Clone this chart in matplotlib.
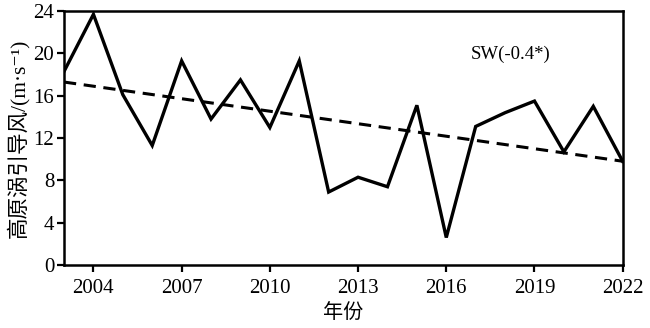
import numpy as np
import matplotlib
matplotlib.use("Agg")
import matplotlib.pyplot as plt

plt.rcParams['font.family'] = ['Liberation Serif', 'Noto Sans CJK SC', 'DejaVu Sans']

years = np.arange(2003, 2023)
wind = [18.3, 23.7, 16.1, 11.3, 19.3, 13.8, 17.5, 13.0, 19.3, 6.9,
        8.3, 7.4, 15.1, 2.6, 13.1, 14.4, 15.5, 10.7, 15.0, 9.8]
xticks = [2004, 2007, 2010, 2013, 2016, 2019, 2022]
yticks = [0, 4, 8, 12, 16, 20, 24]
label = "SW(-0.4*)"

fig = plt.figure(figsize=(6.5, 3.28), dpi=100)
ax = fig.add_axes([0.0985, 0.192, 0.8595, 0.774])

ax.plot(years, wind, color='black', lw=2.4, solid_joinstyle='miter')

# linear trend
k, b = np.polyfit(years, wind, 1)
ax.plot(years, k * years + b, color='black', lw=2.2, ls=(0, (4, 2.5)))

ax.set_xlim(2003, 2022)
ax.set_ylim(0, 24)
ax.set_xticks(xticks)
ax.set_yticks(yticks)
ax.tick_params(labelsize=15, width=1.6, length=5, direction='out')
ax.tick_params(axis='x', pad=5)
ax.tick_params(axis='y', pad=2)
for s in ax.spines.values():
    s.set_linewidth(1.8)

ax.text(0.80, 0.83, label, transform=ax.transAxes, fontsize=13.5, ha='center', va='center')
ax.set_xlabel("年份", fontsize=14.5, family=['Noto Sans CJK SC'], labelpad=3)
ax.set_ylabel("高原涡引导风/(m·s⁻¹)", fontsize=15.5,
              family=['Liberation Serif', 'Noto Sans CJK SC', 'DejaVu Sans'], labelpad=3)

fig.savefig("out.png", dpi=100)
